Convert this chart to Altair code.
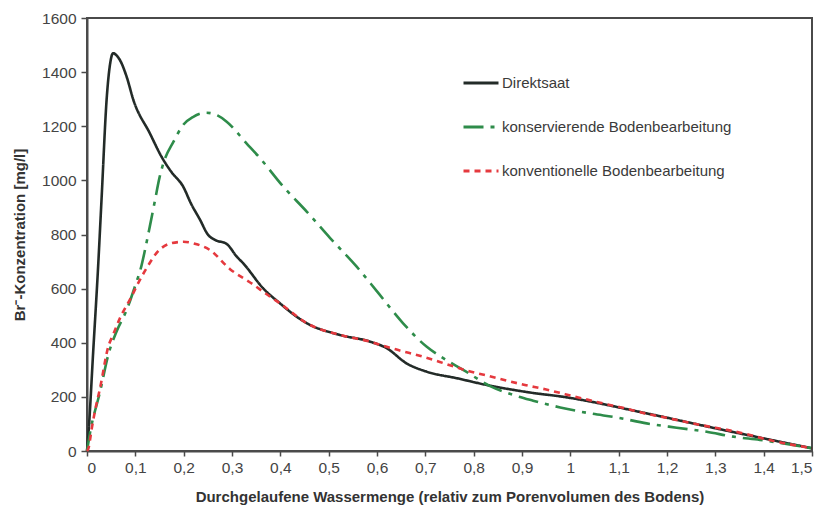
import altair as alt
import pandas as pd

series_names = ["Direktsaat", "konservierende Bodenbearbeitung", "konventionelle Bodenbearbeitung"]

direkt_x = [0, 0.003, 0.013, 0.023, 0.03, 0.041, 0.048, 0.054, 0.062, 0.068, 0.082, 0.096, 0.13,
            0.155, 0.175, 0.199, 0.215, 0.234, 0.25, 0.265, 0.289, 0.31, 0.323, 0.365, 0.399, 0.434,
            0.455, 0.523, 0.586, 0.62, 0.661, 0.703, 0.765, 0.827, 0.917, 0.986, 1.158, 1.3, 1.5]
direkt_y = [0, 65, 373, 681, 927, 1309, 1433, 1470, 1460, 1445, 1383, 1297, 1174,
            1085, 1030, 977, 915, 854, 800, 780, 765, 718, 694, 600, 546, 496,
            472, 429, 404, 380, 324, 293, 269, 244, 216, 200, 139, 84, 10]

kons_x = [0, 0.006, 0.027, 0.044, 0.061, 0.082, 0.099, 0.113, 0.12, 0.13, 0.14, 0.15, 0.158,
          0.179, 0.199, 0.22, 0.247, 0.27, 0.289, 0.33, 0.358, 0.406, 0.455, 0.503, 0.558, 0.6,
          0.654, 0.703, 0.737, 0.779, 0.834, 0.882, 0.923, 0.979, 1.041, 1.096, 1.158, 1.22,
          1.282, 1.337, 1.392, 1.5]
kons_y = [0, 65, 219, 355, 441, 521, 607, 687, 743, 830, 920, 1010, 1063,
          1143, 1205, 1235, 1250, 1240, 1217, 1137, 1082, 977, 884, 787, 681, 590,
          472, 385, 343, 299, 240, 207, 186, 161, 139, 124, 102, 86,
          71, 53, 41, 10]

konv_x = [0, 0.003, 0.01, 0.017, 0.027, 0.044, 0.054, 0.068, 0.092, 0.103, 0.123, 0.148, 0.175,
          0.199, 0.225, 0.254, 0.296, 0.34, 0.379, 0.399, 0.455, 0.523, 0.586, 0.62, 0.644, 0.696,
          0.744, 0.786, 0.827, 0.868, 0.906, 0.948, 0.989, 1.03, 1.072, 1.113, 1.154, 1.196,
          1.237, 1.282, 1.324, 1.365, 1.406, 1.5]
konv_y = [0, 10, 85, 152, 232, 385, 430, 490, 570, 610, 675, 740, 768,
          773, 765, 743, 672, 620, 570, 546, 472, 429, 404, 385, 373, 348,
          321, 297, 279, 260, 244, 228, 210, 192, 174, 158, 139, 124,
          108, 92, 78, 62, 43, 10]

x_ticks = [0, 0.1, 0.2, 0.3, 0.4, 0.5, 0.6, 0.7, 0.8, 0.9, 1.0, 1.1, 1.2, 1.3, 1.4, 1.5]
y_ticks = [0, 200, 400, 600, 800, 1000, 1200, 1400, 1600]

rows = []
for name, xs, ys in zip(series_names, [direkt_x, kons_x, konv_x], [direkt_y, kons_y, konv_y]):
    for i, (a, b) in enumerate(zip(xs, ys)):
        rows.append({"serie": name, "x": a, "y": b, "i": i})
df = pd.DataFrame(rows)

colors = ["#232b28", "#2e8c4a", "#e5393e"]
dashes = [[1, 0], [20, 7, 4, 7], [6, 5]]

chart = alt.Chart(df).mark_line(interpolate="monotone", strokeWidth=2.6).encode(
    x=alt.X("x:Q",
            scale=alt.Scale(domain=[0, 1.5], nice=False, zero=False),
            axis=alt.Axis(values=x_ticks, labelExpr="replace(format(datum.value, '.1~f'), '.', ',')",
                          title="Durchgelaufene Wassermenge (relativ zum Porenvolumen des Bodens)",
                          grid=False, tickSize=5, labelPadding=4, titlePadding=14)),
    y=alt.Y("y:Q",
            scale=alt.Scale(domain=[0, 1600], nice=False),
            axis=alt.Axis(values=y_ticks, format="d", title="Br⁻-Konzentration [mg/l]",
                          grid=False, tickSize=6, labelPadding=5, titlePadding=14)),
    color=alt.Color("serie:N", scale=alt.Scale(domain=series_names, range=colors), title=None,
                    legend=alt.Legend(orient="none", legendX=375, legendY=46,
                                      symbolType="stroke", symbolSize=1225, symbolStrokeWidth=3,
                                      labelFontSize=15, labelColor="#3a3a3a", labelFont="Liberation Sans",
                                      labelLimit=400, rowPadding=17, labelOffset=2)),
    strokeDash=alt.StrokeDash("serie:N", scale=alt.Scale(domain=series_names, range=dashes), title=None),
    order="i:Q",
).properties(
    width=725, height=433,
    autosize=alt.AutoSizeParams(type="none"),
    padding={"left": 79, "top": 10, "right": 3, "bottom": 55},
).configure_view(
    stroke="#4a4a4a", strokeWidth=2
).configure_axis(
    domainColor="#4a4a4a", domainWidth=2, tickColor="#4a4a4a", tickWidth=1.5,
    labelFont="Liberation Sans", labelFontSize=15.5, labelColor="#444444",
    titleFont="Liberation Sans", titleFontSize=15, titleColor="#333333", titleFontWeight="bold"
)

chart.save("out.html", embed_options={"renderer": "svg", "actions": False})
